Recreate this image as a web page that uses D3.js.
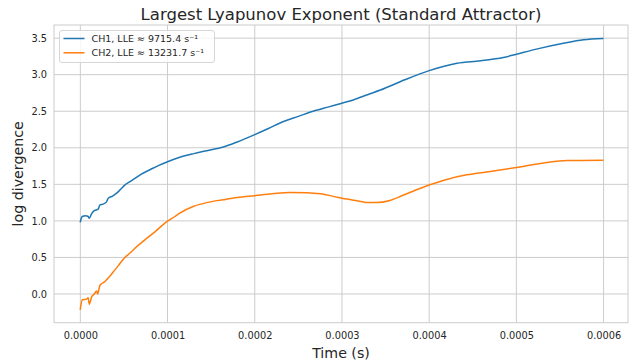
<!DOCTYPE html>
<html>
<head>
<meta charset="utf-8">
<script src="https://cdn.jsdelivr.net/npm/d3@7"></script>
<style>
  html, body { margin: 0; padding: 0; background: #fff; }
  svg { display: block; font-family: "DejaVu Sans", sans-serif; }
</style>
</head>
<body>
<svg id="chart" width="636" height="364"></svg>
<script>
// Time samples (units of 1e-5 s) and log divergence for each channel
const timeCh1 = [0.0, 0.22, 0.6, 0.9, 1.02, 1.3, 1.6, 2.05, 2.25, 2.6, 3.0, 3.2, 3.7, 4.16, 4.6, 5.1, 5.6, 6.26, 7.0, 7.98, 9.0, 10.0, 11.4, 13.0, 14.5, 16.4, 18.0, 20.0, 21.5, 23.3, 25.0, 26.7, 28.5, 30.0, 31.3, 33.0, 34.4, 37.2, 40.0, 41.5, 43.2, 45.9, 48.5, 50.0, 52.3, 55.4, 57.7, 59.9];
const ch1 = [0.99, 1.06, 1.07, 1.06, 1.035, 1.10, 1.14, 1.16, 1.22, 1.23, 1.26, 1.31, 1.34, 1.38, 1.43, 1.49, 1.53, 1.58, 1.64, 1.70, 1.76, 1.81, 1.87, 1.92, 1.96, 2.01, 2.08, 2.18, 2.26, 2.36, 2.43, 2.50, 2.56, 2.61, 2.655, 2.73, 2.79, 2.93, 3.056, 3.11, 3.157, 3.19, 3.235, 3.28, 3.35, 3.43, 3.477, 3.495];

const timeCh2 = [0.0, 0.22, 0.72, 0.9, 1.02, 1.3, 1.6, 1.87, 1.98, 2.25, 2.82, 3.13, 3.4, 3.97, 4.5, 5.1, 5.7, 6.26, 7.4, 8.55, 9.7, 10.85, 11.4, 13.0, 14.5, 16.4, 18.0, 20.0, 22.0, 24.0, 26.0, 27.5, 30.0, 32.0, 33.0, 34.0, 35.5, 37.0, 40.0, 41.8, 44.3, 47.0, 50.0, 53.5, 55.8, 59.9];
const ch2 = [-0.208, -0.08, -0.07, -0.05, -0.14, -0.04, 0.0, 0.04, 0.0, 0.12, 0.17, 0.21, 0.245, 0.33, 0.41, 0.50, 0.56, 0.625, 0.74, 0.85, 0.97, 1.06, 1.105, 1.20, 1.25, 1.29, 1.32, 1.345, 1.37, 1.39, 1.385, 1.37, 1.31, 1.27, 1.25, 1.25, 1.28, 1.35, 1.49, 1.56, 1.63, 1.675, 1.73, 1.80, 1.825, 1.83];

const seriesNames = ["CH1, LLE \u2248 9715.4 s\u207B\u00B9", "CH2, LLE \u2248 13231.7 s\u207B\u00B9"];
const seriesColors = ["#1f77b4", "#ff7f0e"];

const xTicks = [0, 0.0001, 0.0002, 0.0003, 0.0004, 0.0005, 0.0006];
const yTicks = [0.0, 0.5, 1.0, 1.5, 2.0, 2.5, 3.0, 3.5];

const titleText = "Largest Lyapunov Exponent (Standard Attractor)";
const xLabel = "Time (s)";
const yLabel = "log divergence";

const svg = d3.select("#chart");
const plot = { left: 54, right: 628, top: 25, bottom: 322.7 };

const x = d3.scaleLinear().domain([-0.0000302, 0.000628]).range([plot.left, plot.right]);
const y = d3.scaleLinear().domain([-0.393, 3.68]).range([plot.bottom, plot.top]);

const gridColor = "#cccccc";
const textColor = "#262626";

// grid lines
const grid = svg.append("g");
grid.selectAll("line.vx").data(xTicks).enter().append("line")
  .attr("x1", d => x(d)).attr("x2", d => x(d))
  .attr("y1", plot.top).attr("y2", plot.bottom)
  .attr("stroke", gridColor).attr("stroke-width", 1);
grid.selectAll("line.hy").data(yTicks).enter().append("line")
  .attr("x1", plot.left).attr("x2", plot.right)
  .attr("y1", d => y(d)).attr("y2", d => y(d))
  .attr("stroke", gridColor).attr("stroke-width", 1);

// axes (labels only; the frame is drawn separately)
const xAxis = d3.axisBottom(x).tickValues(xTicks).tickFormat(d3.format(".4f")).tickSize(0).tickPadding(9);
const yAxis = d3.axisLeft(y).tickValues(yTicks).tickFormat(d3.format(".1f")).tickSize(0).tickPadding(7);

const gx = svg.append("g").attr("transform", `translate(0,${plot.bottom})`).call(xAxis);
const gy = svg.append("g").attr("transform", `translate(${plot.left},0)`).call(yAxis);
[gx, gy].forEach(g => {
  g.select(".domain").remove();
  g.selectAll("text").attr("fill", textColor).style("font-size", "9.8px").style("font-family", "DejaVu Sans");
});

// series lines
const line = d3.line().x(d => x(d[0] * 1e-5)).y(d => y(d[1])).curve(d3.curveMonotoneX);
const series = [d3.zip(timeCh1, ch1), d3.zip(timeCh2, ch2)];
series.forEach((pts, i) => {
  svg.append("path").datum(pts)
    .attr("d", line)
    .attr("fill", "none")
    .attr("stroke", seriesColors[i])
    .attr("stroke-width", 1.5)
    .attr("stroke-linejoin", "round")
    .attr("stroke-linecap", "square");
});

// frame
svg.append("rect")
  .attr("x", plot.left).attr("y", plot.top)
  .attr("width", plot.right - plot.left).attr("height", plot.bottom - plot.top)
  .attr("fill", "none").attr("stroke", gridColor).attr("stroke-width", 1);

// title and axis labels
svg.append("text").attr("x", (plot.left + plot.right) / 2).attr("y", 20)
  .attr("text-anchor", "middle").attr("fill", textColor)
  .style("font-size", "16.5px").text(titleText);
svg.append("text").attr("x", (plot.left + plot.right) / 2).attr("y", 358)
  .attr("text-anchor", "middle").attr("fill", textColor)
  .style("font-size", "14.2px").text(xLabel);
svg.append("text")
  .attr("transform", `translate(23,${(plot.top + plot.bottom) / 2}) rotate(-90)`)
  .attr("text-anchor", "middle").attr("fill", textColor)
  .style("font-size", "14.2px").text(yLabel);

// legend
const legend = svg.append("g");
legend.append("rect")
  .attr("x", 59.5).attr("y", 30.5).attr("width", 155).attr("height", 32)
  .attr("rx", 2.5).attr("fill", "#ffffff").attr("fill-opacity", 0.8)
  .attr("stroke", "#d6d6d6").attr("stroke-width", 1);
seriesNames.forEach((name, i) => {
  const ly = 38.5 + i * 14.3;
  legend.append("line")
    .attr("x1", 63.5).attr("x2", 84.5).attr("y1", ly).attr("y2", ly)
    .attr("stroke", seriesColors[i]).attr("stroke-width", 1.5);
  legend.append("text")
    .attr("x", 91.5).attr("y", ly + 3.4)
    .attr("fill", textColor).style("font-size", "9.5px")
    .text(name);
});
</script>
</body>
</html>
